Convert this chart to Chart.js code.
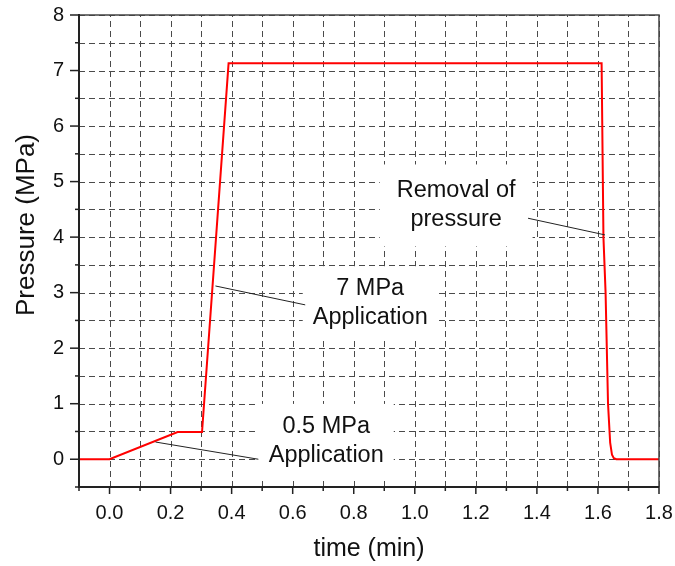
<!DOCTYPE html>
<html><head><meta charset="utf-8">
<script src="https://cdn.jsdelivr.net/npm/chart.js@4.4.1/dist/chart.umd.min.js"></script>
<style>html,body{margin:0;padding:0;background:#fff}#wrap{width:675px;height:566px;position:relative}</style>
</head><body><div id="wrap"><canvas id="c"></canvas></div>
<script>
// ---- data ----
const timeMin     = [-0.1, 0.0, 0.223, 0.303, 0.390, 1.612, 1.618, 1.625, 1.633, 1.640, 1.646, 1.652, 1.660, 1.8];
const pressureMPa = [0.0,  0.0, 0.49,  0.49,  7.13,  7.13,  4.0,   3.0,   1.0,   0.3,   0.08,  0.02,  0.0,   0.0];
const xTickLabels = ['0.0','0.2','0.4','0.6','0.8','1.0','1.2','1.4','1.6','1.8'];
const yTickLabels = ['0','1','2','3','4','5','6','7','8'];
const xAxisTitle = 'time (min)';
const yAxisTitle = 'Pressure (MPa)';
const noteTexts = [['Removal of','pressure'], ['7 MPa','Application'], ['0.5 MPa','Application']];
// annotation anchors in data coordinates (text centre, leader start, leader end)
const noteCentres = [[1.1355, 4.57], [0.854, 2.81], [0.710, 0.33]];
const leaderFrom  = [[1.371, 4.34], [0.347, 3.12], [0.1505, 0.31]];
const leaderTo    = [[1.623, 4.04], [0.641, 2.78], [0.4876, 0.0]];

const FONT = "'Liberation Sans', Arial, sans-serif";
const notePad = [[17, 12], [10, 8], [10, 8]];

const pts = timeMin.map((t, i) => ({x: t, y: pressureMPa[i]}));

const decor = {
  id: 'decor',
  beforeDatasetsDraw(chart) {
    const {ctx, chartArea: a, scales: {x, y}} = chart;
    ctx.save();
    // dashed grid from the library's ticks
    ctx.strokeStyle = '#4a4a4a'; ctx.lineWidth = 1; ctx.setLineDash([6, 4]);
    x.ticks.forEach(t => {
      const px = Math.round(x.getPixelForValue(t.value)) + 0.5;
      ctx.beginPath(); ctx.moveTo(px, a.bottom); ctx.lineTo(px, a.top); ctx.stroke();
    });
    y.ticks.forEach(t => {
      const py = Math.round(y.getPixelForValue(t.value)) + 0.5;
      ctx.beginPath(); ctx.moveTo(a.left, py); ctx.lineTo(a.right, py); ctx.stroke();
    });
    ctx.setLineDash([]);
    // white boxes behind annotations
    ctx.font = '23.5px ' + FONT;
    noteTexts.forEach((lines, i) => {
      const cx = x.getPixelForValue(noteCentres[i][0]);
      const cy = y.getPixelForValue(noteCentres[i][1]);
      const w = Math.max(...lines.map(l => ctx.measureText(l).width));
      const lh = 29, h = lh * lines.length;
      ctx.fillStyle = '#fff';
      ctx.fillRect(cx - w / 2 - notePad[i][0], cy - h / 2 - notePad[i][1], w + 2 * notePad[i][0], h + 2 * notePad[i][1]);
    });
    ctx.restore();
  },
  afterDatasetsDraw(chart) {
    const {ctx, chartArea: a, scales: {x, y}} = chart;
    ctx.save();
    // frame
    ctx.strokeStyle = '#444'; ctx.lineWidth = 1.5;
    ctx.beginPath(); ctx.moveTo(a.left, a.top); ctx.lineTo(a.right, a.top); ctx.lineTo(a.right, a.bottom); ctx.stroke();
    ctx.strokeStyle = '#222'; ctx.lineWidth = 2;
    ctx.beginPath(); ctx.moveTo(a.left, a.top - 1); ctx.lineTo(a.left, a.bottom); ctx.lineTo(a.right, a.bottom); ctx.stroke();
    // tick marks
    ctx.lineWidth = 1.5; ctx.strokeStyle = '#222';
    x.ticks.forEach(t => {
      const px = x.getPixelForValue(t.value);
      const major = Math.round(t.value * 10) % 2 === 0;
      ctx.beginPath(); ctx.moveTo(px, a.bottom); ctx.lineTo(px, a.bottom + (major ? 7 : 4)); ctx.stroke();
    });
    y.ticks.forEach(t => {
      const py = y.getPixelForValue(t.value);
      const major = Math.round(t.value * 2) % 2 === 0;
      ctx.beginPath(); ctx.moveTo(a.left, py); ctx.lineTo(a.left - (major ? 9 : 4), py); ctx.stroke();
    });
    // leader lines
    ctx.strokeStyle = '#222'; ctx.lineWidth = 1;
    leaderFrom.forEach((f, i) => {
      ctx.beginPath();
      ctx.moveTo(x.getPixelForValue(f[0]), y.getPixelForValue(f[1]));
      ctx.lineTo(x.getPixelForValue(leaderTo[i][0]), y.getPixelForValue(leaderTo[i][1]));
      ctx.stroke();
    });
    // annotation text
    ctx.fillStyle = '#111'; ctx.font = '23.5px ' + FONT;
    ctx.textAlign = 'center'; ctx.textBaseline = 'middle';
    noteTexts.forEach((lines, i) => {
      const cx = x.getPixelForValue(noteCentres[i][0]);
      const cy = y.getPixelForValue(noteCentres[i][1]);
      const lh = 29;
      lines.forEach((l, j) => ctx.fillText(l, cx, cy + (j - (lines.length - 1) / 2) * lh));
    });
    // axis titles
    ctx.font = '25px ' + FONT;
    ctx.fillText(xAxisTitle, (a.left + a.right) / 2, 549);
    ctx.save();
    ctx.translate(27, 225); ctx.rotate(-Math.PI / 2);
    ctx.font = '26px ' + FONT;
    ctx.fillText(yAxisTitle, 0, 0);
    ctx.restore();
    ctx.restore();
  }
};

new Chart(document.getElementById('c'), {
  type: 'scatter',
  data: {datasets: [{data: pts, showLine: true, borderColor: '#ff0000', borderWidth: 2, pointRadius: 0, tension: 0, fill: false}]},
  options: {
    responsive: true, maintainAspectRatio: false, animation: false,
    layout: {padding: {left: 0, top: 15, right: 16, bottom: 0}},
    plugins: {legend: {display: false}, tooltip: {enabled: false}},
    scales: {
      x: {
        type: 'linear', min: -0.1, max: 1.8,
        afterFit: s => { s.height = 79; s.paddingLeft = 0; s.paddingRight = 0; },
        ticks: {
          stepSize: 0.1, autoSkip: false, maxRotation: 0, padding: 14, color: '#111',
          font: {family: FONT, size: 20},
          callback: v => { const k = Math.round(v * 10); return (k >= 0 && k % 2 === 0) ? xTickLabels[k / 2] : ''; }
        },
        grid: {display: false, drawTicks: false},
        border: {display: false}
      },
      y: {
        type: 'linear', min: -0.5, max: 8,
        afterFit: s => { s.width = 79; s.paddingTop = 0; s.paddingBottom = 0; },
        ticks: {
          stepSize: 0.5, autoSkip: false, padding: 15, color: '#111',
          font: {family: FONT, size: 20},
          callback: v => { const k = Math.round(v * 2); return (k >= 0 && k % 2 === 0) ? yTickLabels[k / 2] : ''; }
        },
        grid: {display: false, drawTicks: false},
        border: {display: false}
      }
    }
  },
  plugins: [decor]
});
</script></body></html>
